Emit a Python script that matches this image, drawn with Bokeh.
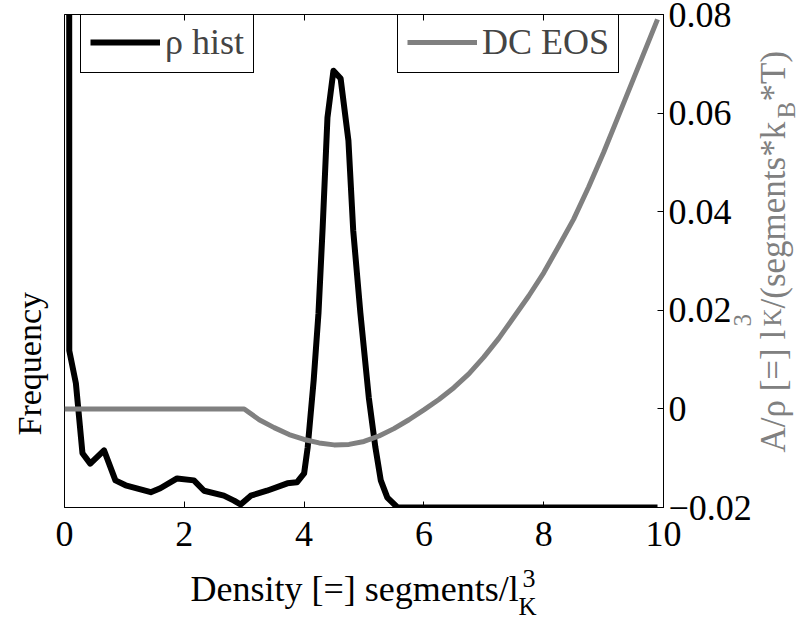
import math
from bokeh.plotting import figure
from bokeh.layouts import column
from bokeh.models import (Range1d, LinearAxis, FixedTicker, Legend, LegendItem,
                          Label, CustomJSTickFormatter)
from bokeh.embed import file_html
from bokeh.resources import INLINE

# ---- data ----
hist_density = [0.07, 0.08, 0.19, 0.30, 0.43, 0.66, 0.85, 1.02, 1.44, 1.60, 1.88, 2.16,
                2.33, 2.66, 2.83, 2.94, 3.11, 3.38, 3.72, 3.88, 4.00, 4.06, 4.16, 4.24,
                4.31, 4.39, 4.49, 4.61, 4.74, 4.82, 4.94, 5.08, 5.19, 5.28, 5.39, 5.56, 9.9]
hist_freq = [5.0, 0.318, 0.252, 0.110, 0.089, 0.116, 0.055, 0.045, 0.031, 0.039, 0.059, 0.055,
             0.034, 0.024, 0.014, 0.006, 0.024, 0.034, 0.049, 0.051, 0.069, 0.122, 0.258, 0.394,
             0.568, 0.791, 0.886, 0.870, 0.744, 0.562, 0.394, 0.223, 0.122, 0.055, 0.020, 0.0, 0.0]

eos_density = [0.0, 3.0, 3.25, 3.5, 3.75, 4.0, 4.25, 4.5, 4.75, 5.0, 5.25, 5.5, 5.75, 6.0,
               6.25, 6.5, 6.75, 7.0, 7.25, 7.5, 7.75, 8.0, 8.25, 8.5, 8.75, 9.0, 9.25, 9.5,
               9.75, 9.9]
eos_value = [0.0, 0.0, -0.0022, -0.0038, -0.0052, -0.0062, -0.0069, -0.0073, -0.0072, -0.0066,
             -0.0055, -0.0040, -0.0022, -0.0002, 0.0019, 0.0043, 0.0071, 0.0105, 0.0143,
             0.0186, 0.0229, 0.0276, 0.0330, 0.0385, 0.0450, 0.0520, 0.0595, 0.0670, 0.0745,
             0.0790]

x_ticks = [0, 2, 4, 6, 8, 10]
eos_ticks = [-0.02, 0.0, 0.02, 0.04, 0.06, 0.08]
eos_tick_labels = ["\u22120.02", "0", "0.02", "0.04", "0.06", "0.08"]

SERIF = "Liberation Serif"
GRAY = "#808080"
W, H = 799, 623

p = figure(width=W, height=H, x_range=Range1d(0, 10), y_range=Range1d(0, 1),
           y_axis_location=None, output_backend="svg", toolbar_location=None,
           min_border_left=64, min_border_right=136, min_border_top=14, min_border_bottom=116)
p.extra_y_ranges = {"eos": Range1d(-0.02, 0.08)}
p.xgrid.visible = False
p.ygrid.visible = False
p.outline_line_color = "black"
p.outline_line_width = 1
p.background_fill_color = "white"
p.border_fill_color = "white"

# bottom axis
xa = p.xaxis[0]
xa.ticker = FixedTicker(ticks=x_ticks)
xa.major_tick_in = 6
xa.major_tick_out = 0
xa.minor_tick_line_color = None
xa.axis_line_color = "black"
xa.major_label_text_font = SERIF
xa.major_label_text_font_size = "36px"
xa.major_label_text_color = "black"
xa.major_label_standoff = 14

# top ticks (no labels)
ta = LinearAxis(ticker=FixedTicker(ticks=x_ticks),
                formatter=CustomJSTickFormatter(code="return ''"),
                major_tick_in=6, major_tick_out=0, minor_tick_line_color=None,
                axis_line_color=None, major_label_text_font_size="1px", major_label_standoff=0)
p.add_layout(ta, "above")

# right axis
ra = LinearAxis(y_range_name="eos", ticker=FixedTicker(ticks=eos_ticks),
                major_label_overrides=dict(zip(eos_ticks, eos_tick_labels)),
                major_tick_in=6, major_tick_out=0, minor_tick_line_color=None,
                axis_line_color="black", major_label_text_font=SERIF,
                major_label_text_font_size="36px", major_label_text_color="black",
                major_label_standoff=5)
p.add_layout(ra, "right")

r_hist = p.line(hist_density, hist_freq, line_color="black", line_width=6, line_join="round")
r_eos = p.line(eos_density, eos_value, y_range_name="eos", line_color=GRAY, line_width=5,
               line_join="round")

def make_legend(label, rend, loc):
    return Legend(items=[LegendItem(label=label, renderers=[rend])], location=loc,
                  border_line_color="black", border_line_width=1, border_line_alpha=1,
                  background_fill_color="white", background_fill_alpha=0,
                  label_text_font=SERIF, label_text_font_size="36px",
                  label_text_line_height=1.0, label_height=20, glyph_height=20,
                  glyph_width=70, label_standoff=5, padding=9, margin=0, spacing=0)

p.add_layout(make_legend("\u03c1 hist", r_hist, (16, 434)))
p.add_layout(make_legend("DC EOS", r_eos, (333, 434)))

# ---- transparent overlay carrying the axis titles (canvas pixel coordinates) ----
ov = figure(width=W, height=H, x_range=Range1d(0, W), y_range=Range1d(H, 0),
            x_axis_location=None, y_axis_location=None, output_backend="svg",
            toolbar_location=None, min_border=0, outline_line_color=None,
            background_fill_color=None, border_fill_color=None)
ov.xgrid.visible = False
ov.ygrid.visible = False
ov.margin = (-H, 0, 0, 0)
for fig in (p, ov):
    try:
        fig.frame_align = False
    except Exception:
        pass

def lab(text, X, Y, size, color="black", angle=0.0):
    ov.add_layout(Label(x=X, y=Y, text=text, angle=angle, text_align="left",
                        text_baseline="alphabetic", text_font=SERIF,
                        text_font_size=size, text_color=color))

# x axis title
lab("Density [=] segments/l", 190, 588, "36px")
lab("3", 522, 578, "26px")
lab("K", 518, 606, "25px")

# left axis title
lab("Frequency", 29, 435, "34px", angle=math.pi / 2)

# right axis title (reads bottom to top)
V = math.pi / 2
lab("A/\u03c1 [=] l", 773, 452, "35px", GRAY, V)
lab("3", 742, 326, "25px", GRAY, V)
lab("K", 772, 326, "25px", GRAY, V)
lab("/(segments*k", 773, 308, "35px", GRAY, V)
lab("B", 786, 118, "25px", GRAY, V)
lab("*T)", 773, 101, "35px", GRAY, V)

open("out.html", "w").write(file_html(column(p, ov), INLINE))
